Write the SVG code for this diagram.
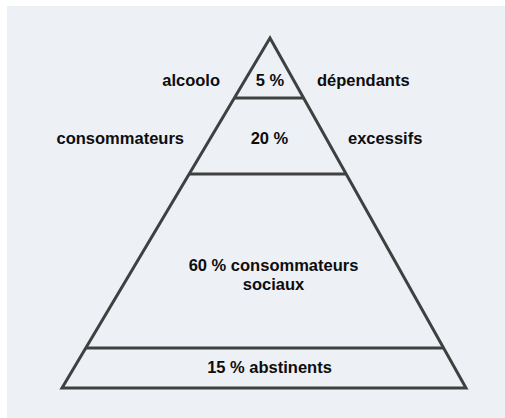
<svg xmlns="http://www.w3.org/2000/svg" width="505" height="418" viewBox="0 0 505 418">
<style>
.ln{stroke:#404040;stroke-width:3;fill:none;stroke-linejoin:miter}
.t{font-family:"Liberation Sans",Arial,sans-serif;font-weight:bold;font-size:16.5px;fill:#0d0d0d}
.c{text-anchor:middle}
.e{text-anchor:end}
</style>
<rect x="7" y="6" width="505" height="420" fill="#edf0f5"/>
<g id="connectors">
<polygon class="ln" points="270,38 62,388 466,388"/>
<line class="ln" x1="234.5" y1="98" x2="304" y2="98"/>
<line class="ln" x1="189" y1="174" x2="346.5" y2="174"/>
<line class="ln" x1="86" y1="348" x2="443.5" y2="348"/>
</g>
<g id="level-5">
<text class="t c" x="270" y="86">5 %</text>
<text class="t e" x="220" y="86">alcoolo</text>
<text class="t" x="317" y="86">dépendants</text>
</g>
<g id="level-20">
<text class="t c" x="269.5" y="144">20 %</text>
<text class="t e" x="184" y="144">consommateurs</text>
<text class="t" x="348" y="144">excessifs</text>
</g>
<g id="level-60">
<text class="t c" x="273.5" y="271">60 % consommateurs</text>
<text class="t c" x="273.5" y="290">sociaux</text>
</g>
<g id="level-15">
<text class="t c" x="269.5" y="373">15 % abstinents</text>
</g>
</svg>
